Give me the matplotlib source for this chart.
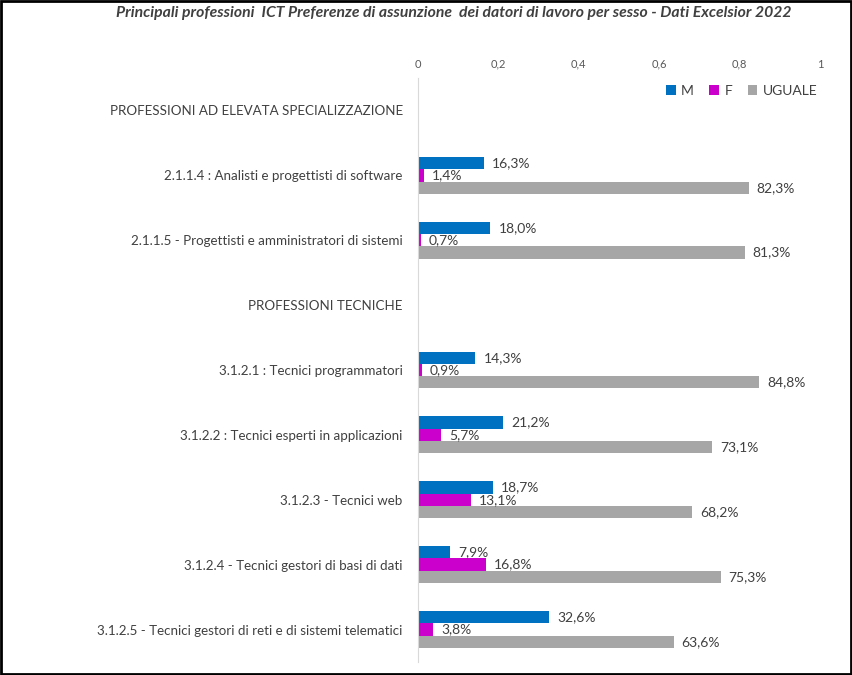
import matplotlib.pyplot as plt
from matplotlib.patches import Rectangle
import numpy as np

plt.rcParams['font.family'] = ['Lato', 'DejaVu Sans']

categories = [
    "PROFESSIONI AD ELEVATA SPECIALIZZAZIONE",
    "2.1.1.4 : Analisti e progettisti di software",
    "2.1.1.5 - Progettisti e amministratori di sistemi",
    "PROFESSIONI TECNICHE",
    "3.1.2.1 : Tecnici programmatori",
    "3.1.2.2 : Tecnici esperti in applicazioni",
    "3.1.2.3 - Tecnici web",
    "3.1.2.4 - Tecnici gestori di basi di dati",
    "3.1.2.5 - Tecnici gestori di reti e di sistemi telematici",
]
m_vals = [np.nan, 16.3, 18.0, np.nan, 14.3, 21.2, 18.7, 7.9, 32.6]
f_vals = [np.nan, 1.4, 0.7, np.nan, 0.9, 5.7, 13.1, 16.8, 3.8]
u_vals = [np.nan, 82.3, 81.3, np.nan, 84.8, 73.1, 68.2, 75.3, 63.6]
series_names = ["M", "F", "UGUALE"]
colors = ["#0070C0", "#CC00CC", "#A6A6A6"]
ticks = [0, 0.2, 0.4, 0.6, 0.8, 1]
tick_labels = ["0", "0,2", "0,4", "0,6", "0,8", "1"]
title = "Principali professioni  ICT Preferenze di assunzione  dei datori di lavoro per sesso - Dati Excelsior 2022"

text_col = "#404040"

fig = plt.figure(figsize=(8.52, 6.75), dpi=100)
ax = fig.add_axes([0.4906, 0.0193, 0.4718, 0.8651])

y = np.arange(len(categories))
h = 0.19
for k, (vals, name, col) in enumerate(zip([m_vals, f_vals, u_vals], series_names, colors)):
    v = np.array(vals) / 100.0
    pos = y + (k - 1) * h
    ax.barh(pos, v, height=h, color=col, label=name)
    for p, val in zip(pos, vals):
        if not np.isnan(val):
            ax.text(val / 100.0 + 0.02, p, f"{val:.1f}%".replace(".", ","),
                    va="center", ha="left", fontsize=10, color=text_col)

ax.set_xlim(0, 1)
ax.set_ylim(len(categories) - 0.5, -0.5)
ax.set_yticks(y)
ax.set_yticklabels(categories, fontsize=9.6, color=text_col)
ax.set_xticks(ticks)
ax.set_xticklabels(tick_labels, fontsize=8, color="#595959")
ax.xaxis.tick_top()
ax.tick_params(axis="both", length=0)
ax.tick_params(axis="x", pad=6)
ax.tick_params(axis="y", pad=11)
for s in ["top", "right", "bottom"]:
    ax.spines[s].set_visible(False)
ax.spines["left"].set_color("#D9D9D9")

ax.legend(loc="upper right", bbox_to_anchor=(1.025, 1.01), ncol=3, frameon=False,
          fontsize=10, handlelength=0.7, handleheight=0.7, handletextpad=0.4,
          columnspacing=1.1, labelcolor=text_col)

fig.text(0.532, 0.981, title, ha="center", va="center", fontsize=11.3,
         style="italic", fontweight="bold", color=text_col)

fig.patches.append(Rectangle((0.001, 0.001), 0.998, 0.998, transform=fig.transFigure,
                             fill=False, edgecolor="black", linewidth=2))

fig.savefig("out.png", dpi=100)
